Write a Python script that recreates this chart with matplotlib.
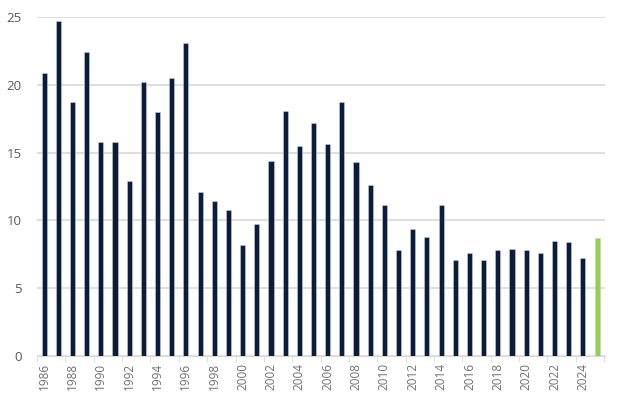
import matplotlib.pyplot as plt
import numpy as np

years = list(range(1986, 2026))
values = [20.9, 24.7, 18.7, 22.4, 15.8, 15.8, 12.9, 20.2, 18.0, 20.5,
          23.1, 12.1, 11.4, 10.8, 8.2, 9.7, 14.4, 18.1, 15.5, 17.2,
          15.6, 18.7, 14.3, 12.6, 11.1, 7.8, 9.4, 8.8, 11.1, 7.1,
          7.6, 7.1, 7.8, 7.9, 7.8, 7.6, 8.5, 8.4, 7.2, 8.7]
tick_labels = [str(y) for y in years[::2]]

navy = '#0b1d3d'
green = '#92d050'
colors = [navy] * (len(years) - 1) + [green]

plt.rcParams['font.family'] = ['Open Sans', 'DejaVu Sans']

fig = plt.figure(figsize=(6.19, 4.07), dpi=100)
ax = fig.add_axes([37 / 619, 1 - 356 / 407, (605 - 37) / 619, (356 - 17) / 407])

x = np.arange(len(years))
ax.bar(x, values, width=0.36, color=colors, edgecolor='#c8cdd6', linewidth=0.4, zorder=3)

ax.set_ylim(0, 25)
ax.set_yticks([0, 5, 10, 15, 20, 25])
ax.set_xlim(-0.5, 39.56)
ax.set_xticks(x[::2])
ax.set_xticklabels(tick_labels, rotation=90)
ax.set_xticks(np.arange(-0.5, 40, 2), minor=True)

ax.grid(axis='y', color='#d9d9d9', linewidth=1.2, zorder=0)
for s in ['top', 'right', 'left']:
    ax.spines[s].set_visible(False)
ax.spines['bottom'].set_color('#d9d9d9')
ax.tick_params(axis='y', length=0, labelsize=9.5, labelcolor='#595959', pad=11)
ax.tick_params(axis='x', which='major', length=0, labelsize=8.5, labelcolor='#6f6f6f', pad=5)
ax.tick_params(axis='x', which='minor', length=4, color='#d9d9d9')

fig.savefig('out.png', dpi=100)
